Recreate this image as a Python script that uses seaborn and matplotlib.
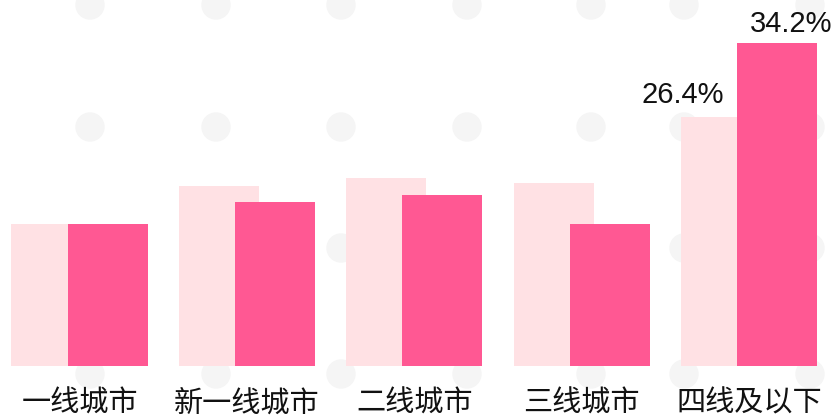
import numpy as np
import pandas as pd
import seaborn as sns
import matplotlib
matplotlib.use("Agg")
import matplotlib.pyplot as plt
from matplotlib.patches import Ellipse

# === Data ===
cities = ["一线城市", "新一线城市", "二线城市", "三线城市", "四线及以下"]
share_a = [15.1, 19.1, 19.9, 19.4, 26.4]   # light series
share_b = [15.1, 17.4, 18.1, 15.1, 34.2]   # dark series
labeled = ["四线及以下"]

light_color = "#FFE1E4"
dark_color = "#FF5893"

sns.set_theme(style="white")
plt.rcParams["font.family"] = ["Noto Sans CJK SC", "DejaVu Sans"]

df = pd.DataFrame({"city": cities, "a": share_a, "b": share_b})

fig = plt.figure(figsize=(8.38, 4.18), dpi=100)

# background watermark dots (figure pixels)
W, H = 838, 418
for yy in [5, 127, 248, 374]:
    for xx in [90, 216, 341, 467, 591, 684, 810]:
        fig.patches.append(Ellipse((xx / W, 1 - yy / H), 28 / W, 28 / H,
                                   transform=fig.transFigure, color="#F5F5F5",
                                   zorder=-5))

ax = fig.add_axes([0, 52 / H, 1, 366 / H])
ax.set_zorder(2)
ax.patch.set_alpha(0)

bar_w = 0.478
shift = 0.1675

sns.barplot(data=df, x="city", y="a", color=light_color, width=bar_w,
            saturation=1, ax=ax, zorder=2)
n_a = len(ax.patches)
sns.barplot(data=df, x="city", y="b", color=dark_color, width=bar_w,
            saturation=1, ax=ax, zorder=3)

for i, p in enumerate(ax.patches):
    p.set_x(p.get_x() + (-shift if i < n_a else shift))
    p.set_linewidth(0)

num_font = ["Liberation Sans Narrow", "Liberation Sans", "DejaVu Sans"]
for i, c in enumerate(cities):
    if c in labeled:
        ax.annotate(f"{share_a[i]}%", xy=(i - shift, share_a[i]),
                    xytext=(-38, 14), textcoords="offset pixels",
                    ha="center", va="baseline", fontsize=21,
                    family=num_font, color="#111111", annotation_clip=False)
        ax.annotate(f"{share_b[i]}%", xy=(i + shift, share_b[i]),
                    xytext=(14, 11), textcoords="offset pixels",
                    ha="center", va="baseline", fontsize=21,
                    family=num_font, color="#111111", annotation_clip=False)

ax.set_xlim(-0.475, 4.531)
ax.set_ylim(0, 38.8)
ax.set_xlabel("")
ax.set_ylabel("")
ax.set_yticks([])
ax.tick_params(axis="x", length=0, pad=16, labelsize=21, colors="#111111")
sns.despine(ax=ax, left=True, bottom=True)

fig.savefig("out.png", dpi=100)
